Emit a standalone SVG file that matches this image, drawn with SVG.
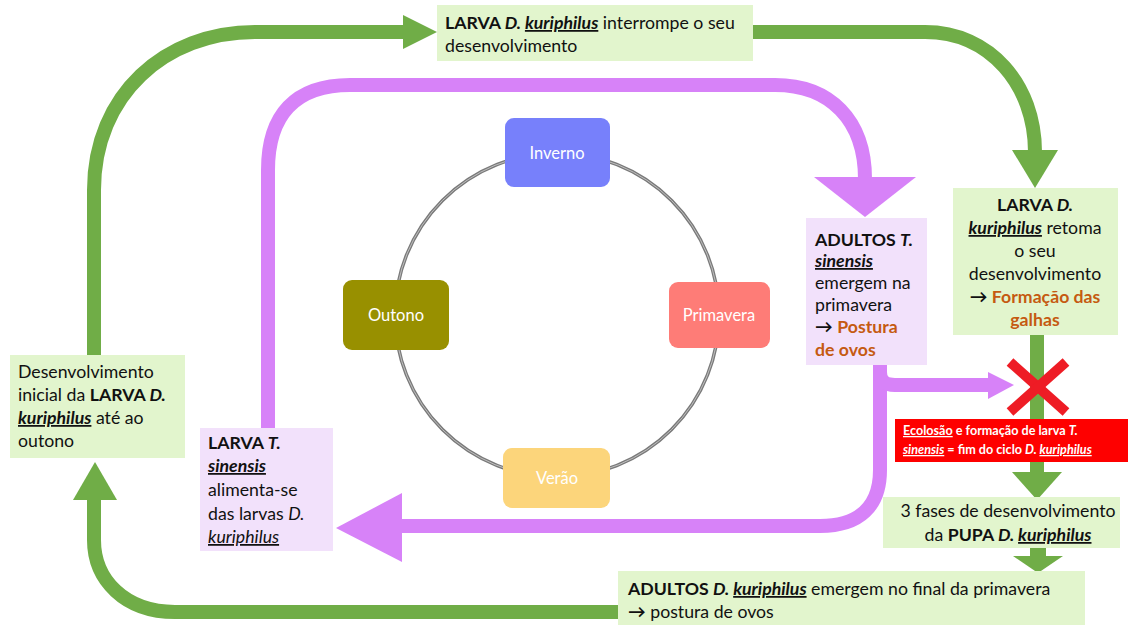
<svg xmlns="http://www.w3.org/2000/svg" width="1130" height="625" viewBox="0 0 1130 625">
<style>
.t{font-family:Lato,"Liberation Sans",sans-serif;font-size:17.7px;fill:#111}
.b{font-weight:bold}
.i{font-style:italic}
.u{text-decoration:underline}
.o{fill:#c55a11;font-weight:bold}
.a{font-weight:bold}
.g{fill:#e2f5cd}
.p{fill:#f2e1fb}
.gl{fill:none;stroke:#70ad47;stroke-width:14}
.gh{fill:#70ad47}
.pl{fill:none;stroke:#d782f8;stroke-width:14}
.ph{fill:#d782f8}
.s{font-family:Lato,"Liberation Sans",sans-serif;font-size:16.5px;fill:#fff;text-anchor:middle}
.r{font-family:Lato,"Liberation Sans",sans-serif;font-size:12.6px;fill:#fff;font-weight:bold}
</style>
<rect width="1130" height="625" fill="#fff"/>
<g id="connectors">
<circle cx="557" cy="315" r="162" fill="none" stroke="#7a7a7a" stroke-width="3.5"/>
<circle cx="557" cy="315" r="162" fill="none" stroke="#d0d0d0" stroke-width="0.8"/>
<path class="gl" d="M94,355 L94,190 C94,95 165,32 255,32 L405,32"/>
<polygon class="gh" points="403,15 437,32 403,49"/>
<path class="gl" d="M753,32 L925,32 C990,32 1035,85 1035,152"/>
<polygon class="gh" points="1012,150 1058,150 1035,188"/>
<path class="gl" d="M1037,335 L1037,474"/>
<polygon class="gh" points="1012,472 1062,472 1037,500"/>
<rect class="gh" x="1030" y="547" width="16" height="10"/>
<polygon class="gh" points="1013,556 1063,556 1038,573"/>
<path class="gl" d="M618,612 L175,612 C125,612 94,580 94,540 L94,498"/>
<polygon class="gh" points="73,500 117,500 95,462"/>
<path class="pl" d="M268,428 L268,170 C268,115 295,85 350,85 L775,85 C830,85 865,120 865,179"/>
<polygon class="ph" points="814,177 916,177 865,217"/>
<path class="pl" d="M880,365 L880,470 C880,506 860,526 820,526 L400,526" stroke-width="13"/>
<polygon class="ph" points="402,493 402,562 336,528"/>
<path class="pl" d="M880,372 C880,381 885,385 895,385 L990,385" stroke-width="11"/>
<polygon class="ph" points="988,372 988,399 1014,385"/>
</g>
<g id="inverno">
<rect x="505" y="118" width="105" height="69" rx="9" fill="#7780fb"/>
<text class="s" x="557" y="159">Inverno</text>
</g>
<g id="primavera">
<rect x="669" y="282" width="101" height="66" rx="9" fill="#fe7c77"/>
<text class="s" x="719" y="321">Primavera</text>
</g>
<g id="verao">
<rect x="503" y="448" width="107" height="60" rx="9" fill="#fcd57b"/>
<text class="s" x="557" y="484">Verão</text>
</g>
<g id="outono">
<rect x="343" y="280" width="106" height="70" rx="9" fill="#989000"/>
<text class="s" x="396" y="321" fill="#fffbe0">Outono</text>
</g>
<g id="larva-interrompe">
<rect class="g" x="437" y="5" width="316" height="56"/>
<text class="t" x="445" y="29"><tspan class="b">LARVA </tspan><tspan class="b i">D. </tspan><tspan class="b i u">kuriphilus</tspan> interrompe o seu</text>
<text class="t" x="445" y="52">desenvolvimento</text>
</g>
<g id="larva-retoma">
<rect class="g" x="953" y="188" width="165" height="147"/>
<text class="t" text-anchor="middle" x="1035" y="211"><tspan class="b">LARVA </tspan><tspan class="b i">D.</tspan></text>
<text class="t" text-anchor="middle" x="1035" y="234"><tspan class="b i u">kuriphilus</tspan> retoma</text>
<text class="t" text-anchor="middle" x="1035" y="257">o seu</text>
<text class="t" text-anchor="middle" x="1035" y="280">desenvolvimento</text>
<text class="t" text-anchor="middle" x="1035" y="303"><tspan class="a">→</tspan> <tspan class="o">Formação das</tspan></text>
<text class="t o" text-anchor="middle" x="1035" y="326">galhas</text>
</g>
<g id="adultos-sinensis">
<rect class="p" x="806" y="218" width="121" height="147"/>
<text class="t" x="815" y="246"><tspan class="b">ADULTOS </tspan><tspan class="b i">T.</tspan></text>
<text class="t b i u" x="815" y="267">sinensis</text>
<text class="t" x="815" y="289">emergem na</text>
<text class="t" x="815" y="311">primavera</text>
<text class="t" x="815" y="333"><tspan class="a">→</tspan> <tspan class="o">Postura</tspan></text>
<text class="t o" x="815" y="356">de ovos</text>
</g>
<g id="fim-ciclo">
<line x1="1010" y1="362" x2="1066" y2="412" stroke="#ee1c25" stroke-width="10"/>
<line x1="1066" y1="362" x2="1010" y2="412" stroke="#ee1c25" stroke-width="10"/>
<rect x="895" y="419" width="233" height="43" fill="#fe0000"/>
<text class="r" x="903" y="435"><tspan class="u">Ecolosão</tspan> e formação de larva <tspan class="i">T.</tspan></text>
<text class="r" x="903" y="454"><tspan class="i u">sinensis</tspan> = fim do ciclo <tspan class="i">D. </tspan><tspan class="i u">kuriphilus</tspan></text>
</g>
<g id="pupa">
<rect class="g" x="883" y="497" width="237" height="51"/>
<text class="t" text-anchor="middle" x="1008" y="517">3 fases de desenvolvimento</text>
<text class="t" text-anchor="middle" x="1008" y="541">da <tspan class="b">PUPA </tspan><tspan class="b i">D. </tspan><tspan class="b i u">kuriphilus</tspan></text>
</g>
<g id="adultos-kuriphilus">
<rect class="g" x="618" y="571" width="467" height="54"/>
<text class="t" x="628" y="595"><tspan class="b">ADULTOS </tspan><tspan class="b i">D. </tspan><tspan class="b i u">kuriphilus</tspan> emergem no final da primavera</text>
<text class="t" x="628" y="618"><tspan class="a">→</tspan> postura de ovos</text>
</g>
<g id="larva-sinensis">
<rect class="p" x="200" y="428" width="133" height="123"/>
<text class="t" x="208" y="449"><tspan class="b">LARVA </tspan><tspan class="b i">T.</tspan></text>
<text class="t b i u" x="208" y="472">sinensis</text>
<text class="t" x="208" y="496">alimenta-se</text>
<text class="t" x="208" y="520">das larvas <tspan class="i">D.</tspan></text>
<text class="t i u" x="208" y="543">kuriphilus</text>
</g>
<g id="desenvolvimento-inicial">
<rect class="g" x="10" y="355" width="175" height="103"/>
<text class="t" x="18" y="378">Desenvolvimento</text>
<text class="t" x="18" y="401">inicial da <tspan class="b">LARVA </tspan><tspan class="b i">D.</tspan></text>
<text class="t" x="18" y="424"><tspan class="b i u">kuriphilus</tspan> até ao</text>
<text class="t" x="18" y="447">outono</text>
</g>
</svg>
